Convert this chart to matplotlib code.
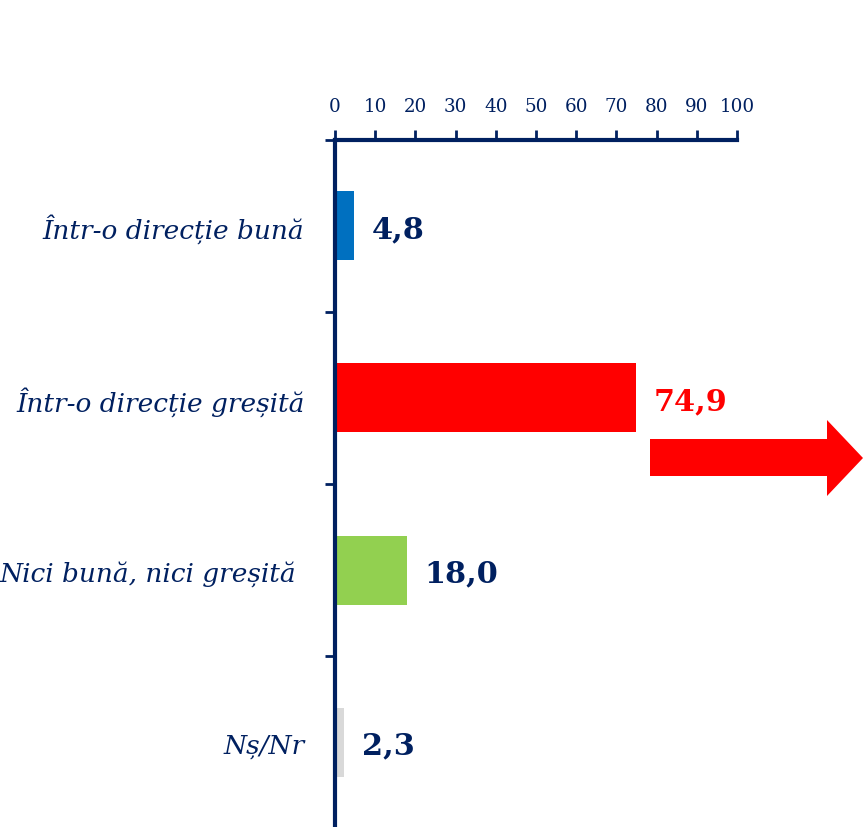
import matplotlib
matplotlib.use("Agg")
import matplotlib.pyplot as plt
from matplotlib.patches import Polygon

categories = ["Într-o direcție bună", "Într-o direcție greșită", "Nici bună, nici greșită ", "Nș/Nr"]
values = [4.8, 74.9, 18.0, 2.3]
value_labels = ["4,8", "74,9", "18,0", "2,3"]
bar_colors = ["#0070C0", "#FF0000", "#92D050", "#D9D9D9"]
label_colors = ["#002060", "#FF0000", "#002060", "#002060"]
xticks = [0, 10, 20, 30, 40, 50, 60, 70, 80, 90, 100]

NAVY = "#002060"
W, H = 863, 828
fig = plt.figure(figsize=(W / 100, H / 100), dpi=100)
ax = fig.add_axes([335 / W, -1.5 / H, (737 - 335) / W, (828 - 139) / H])

y = list(range(len(categories)))
ax.barh(y, values, height=0.4, color=bar_colors, zorder=2)
ax.set_xlim(0, 100)
ax.set_ylim(3.5, -0.5)

ax.xaxis.tick_top()
ax.set_xticks(xticks)
ax.set_xticklabels([str(t) for t in xticks], family="DejaVu Serif", fontsize=13.2, color=NAVY)
ax.tick_params(axis="x", direction="out", length=7, width=2, color=NAVY, pad=11)

ax.set_yticks([-0.5, 0.5, 1.5, 2.5, 3.5])
ax.set_yticklabels([])
ax.tick_params(axis="y", direction="out", length=7, width=2, color=NAVY)
ax.set_yticks(y, minor=True)
ax.set_yticklabels(categories, minor=True, family="DejaVu Serif", style="italic",
                   fontsize=19, color=NAVY)
ax.tick_params(axis="y", which="minor", length=0, pad=22)

for s in ["right", "bottom"]:
    ax.spines[s].set_visible(False)
for s in ["top", "left"]:
    ax.spines[s].set_color(NAVY)
    ax.spines[s].set_linewidth(3)

for yi, v, lab, c in zip(y, values, value_labels, label_colors):
    ax.annotate(lab, xy=(v, yi), xytext=(12.5, -2), textcoords="offset points",
                ha="left", va="center", family="DejaVu Serif", fontweight="bold",
                fontsize=21.8, color=c)

# decorative block arrow (figure pixel coords)
pts = [(650, 440), (827, 440), (827, 421), (863, 459), (827, 497), (827, 477), (650, 477)]
poly = Polygon([(px / W, 1 - py / H) for px, py in pts], closed=True,
               transform=fig.transFigure, facecolor="#FF0000", edgecolor="none")
fig.patches.append(poly)

fig.savefig("out.png", dpi=100)
